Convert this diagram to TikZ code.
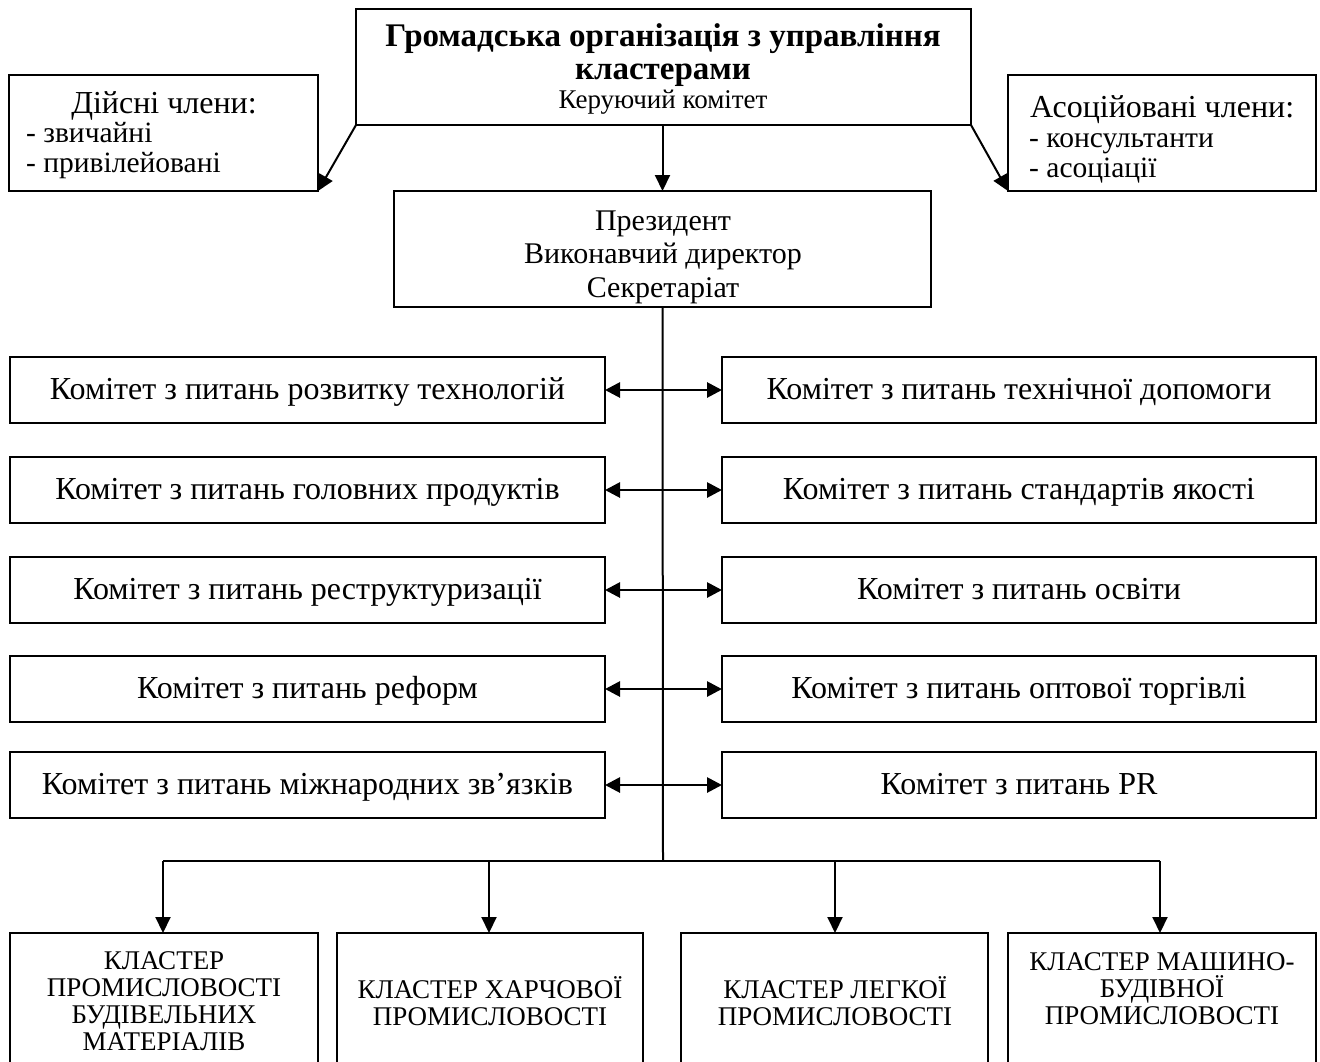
\documentclass[tikz,border=0pt]{standalone}
\usepackage{fontspec}
\setmainfont{Liberation Serif}
\usetikzlibrary{arrows.meta}
\tikzset{
  box/.style={draw, line width=2pt, inner sep=0pt, outer sep=0pt, anchor=north west},
  tip/.style={-{Triangle[length=16pt,width=15pt]}},
  conn/.style={line width=2pt, tip},
  dconn/.style={line width=2.8pt, {Triangle[length=15pt,width=15pt]}-{Triangle[length=15pt,width=15pt]}},
  plain/.style={line width=2pt},
  ln/.style={inner sep=0pt, anchor=base},
  big/.style={ln, font=\fontsize{32}{36}\selectfont},
  mid/.style={ln, font=\fontsize{30}{34}\selectfont},
  mem/.style={ln, anchor=base west, font=\fontsize{29.5}{33}\selectfont},
  kl/.style={ln, font=\fontsize{27}{30}\selectfont},
}
\begin{document}
\begin{tikzpicture}[x=1pt,y=-1pt]
\useasboundingbox (0,0) rectangle (1320,1061);
\clip (0,0) rectangle (1320,1061);
% top
\node[box, minimum width=615pt, minimum height=116pt] (top) at (356,9) {};
\node[ln, font=\fontsize{33}{36}\selectfont\bfseries] (top1) at (663,46) {Громадська організація з управління};
\node[ln, font=\fontsize{33}{36}\selectfont\bfseries] (top2) at (663,79) {кластерами};
\node[ln, font=\fontsize{27}{30}\selectfont] (top3) at (663,108) {Керуючий комітет};
% members
\node[box, minimum width=309pt, minimum height=116pt] (full) at (9,75) {};
\node[ln, font=\fontsize{32}{36}\selectfont] (fullt) at (164,113) {Дійсні члени:};
\node[mem] (full1) at (26,142) {- звичайні};
\node[mem] (full2) at (26,172) {- привілейовані};
\node[box, minimum width=308pt, minimum height=116pt] (assoc) at (1008,75) {};
\node[ln, anchor=base west, font=\fontsize{32}{36}\selectfont] (assoct) at (1030,117) {Асоційовані члени:};
\node[mem] (assoc1) at (1029,147) {- консультанти};
\node[mem] (assoc2) at (1029,177) {- асоціації};
% president
\node[box, minimum width=537pt, minimum height=116pt] (pres) at (394,191) {};
\node[mid] (pres1) at (663,230) {Президент};
\node[mid] (pres2) at (663,263.5) {Виконавчий директор};
\node[mid] (pres3) at (663,297) {Секретаріат};
% arrows from top
\draw[conn] (top.south west) -- (full.south east);
\draw[conn] (top.south east) -- (assoc.south west);
\draw[conn] (top.south -| pres.north) -- (pres.north);
% committees
\foreach \i/\yy/\lt/\rt in {1/357/{Комітет з питань розвитку технологій}/{Комітет з питань технічної допомоги},
  2/457/{Комітет з питань головних продуктів}/{Комітет з питань стандартів якості},
  3/557/{Комітет з питань реструктуризації}/{Комітет з питань освіти},
  4/656/{Комітет з питань реформ}/{Комітет з питань оптової торгівлі},
  5/752/{Комітет з питань міжнародних зв’язків}/{Комітет з питань PR}}{
  \node[box, minimum width=595pt, minimum height=66pt] (L\i) at (10,\yy) {};
  \node[big] (Lt\i) at (307.5,{\yy+42}) {\lt};
  \node[box, minimum width=594pt, minimum height=66pt] (R\i) at (722,\yy) {};
  \node[big] (Rt\i) at (1019,{\yy+42}) {\rt};
  \draw[dconn] (L\i.east) -- (R\i.west);
}
% stem
\coordinate (hub) at (663,861);
\draw[plain] (pres.south) -- (hub);
% clusters
\node[box, minimum width=308pt, minimum height=160pt] (K1) at (10,933) {};
\node[box, minimum width=306pt, minimum height=160pt] (K2) at (337,933) {};
\node[box, minimum width=307pt, minimum height=160pt] (K3) at (681,933) {};
\node[box, minimum width=308pt, minimum height=160pt] (K4) at (1008,933) {};
\node[kl] (K1a) at (164,969) {КЛАСТЕР};
\node[kl] (K1b) at (164,996) {ПРОМИСЛОВОСТІ};
\node[kl] (K1c) at (164,1023) {БУДІВЕЛЬНИХ};
\node[kl] (K1d) at (164,1050) {МАТЕРІАЛІВ};
\node[kl] (K2a) at (490,998) {КЛАСТЕР ХАРЧОВОЇ};
\node[kl] (K2b) at (490,1025) {ПРОМИСЛОВОСТІ};
\node[kl] (K3a) at (835,998) {КЛАСТЕР ЛЕГКОЇ};
\node[kl] (K3b) at (835,1025) {ПРОМИСЛОВОСТІ};
\node[kl] (K4a) at (1162,970) {КЛАСТЕР МАШИНО-};
\node[kl] (K4b) at (1162,997) {БУДІВНОЇ};
\node[kl] (K4c) at (1162,1024) {ПРОМИСЛОВОСТІ};
\coordinate (b1) at (163,861);
\coordinate (b2) at (489,861);
\coordinate (b3) at (835,861);
\coordinate (b4) at (1160,861);
\draw[plain] (b1) -- (b4);
\draw[conn] (b1) -- (b1 |- K1.north);
\draw[conn] (b2) -- (b2 |- K2.north);
\draw[conn] (b3) -- (b3 |- K3.north);
\draw[conn] (b4) -- (b4 |- K4.north);
\end{tikzpicture}
\end{document}
